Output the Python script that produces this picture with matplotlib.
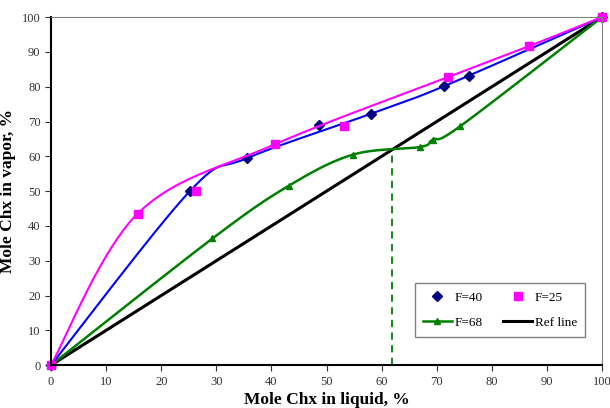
import matplotlib as mpl
mpl.use('Agg')
import matplotlib.pyplot as plt
import numpy as np

# liquid / vapor mole % of Chx (markers)
x_f40 = [0, 25.2, 35.6, 48.7, 58.0, 71.4, 75.9, 100]
y_f40 = [0, 50.0, 59.5, 69.0, 72.2, 80.2, 83.0, 100]

x_f25 = [0, 15.7, 26.3, 40.7, 53.2, 72.1, 86.8, 100]
y_f25 = [0, 43.5, 50.1, 63.5, 68.8, 82.8, 91.7, 100]

x_f68 = [0, 29.3, 43.1, 54.8, 67.0, 69.3, 74.3, 100]
y_f68 = [0, 36.4, 51.5, 60.5, 62.7, 64.8, 68.7, 100]

# smoothed fit lines (drawn through a subset of the points)
x_f40_fit = [0, 25.2, 35.6, 58.0, 71.4, 100]
y_f40_fit = [0, 50.0, 59.5, 72.2, 80.2, 100]

x_f25_fit = [0, 15.7, 40.7, 72.1, 86.8, 100]
y_f25_fit = [0, 43.5, 63.5, 82.8, 91.7, 100]

x_ref = [0, 100]
y_ref = [0, 100]

x_cross = 61.9  # where F=68 crosses the ref line


def smooth(xs, ys, n=30):
    # excel-like smoothed line: cubic bezier between points (catmull-rom handles)
    p = np.column_stack([xs, ys]).astype(float)
    out = [p[0]]
    t = np.linspace(0, 1, n)[1:, None]
    for i in range(len(p) - 1):
        p0 = p[i - 1] if i > 0 else p[i]
        p3 = p[i + 2] if i + 2 < len(p) else p[i + 1]
        c1 = p[i] + (p[i + 1] - p0) / 6
        c2 = p[i + 1] - (p3 - p[i]) / 6
        seg = ((1 - t) ** 3 * p[i] + 3 * (1 - t) ** 2 * t * c1
               + 3 * (1 - t) * t ** 2 * c2 + t ** 3 * p[i + 1])
        out.extend(seg)
    out = np.array(out)
    return out[:, 0], out[:, 1]


plt.rcParams['font.family'] = 'Liberation Serif'

fig = plt.figure(figsize=(6.1, 4.08), dpi=100)
ax = fig.add_axes([0.0836, 0.105, 0.9034, 0.853])

ax.plot([x_cross, x_cross], [0, x_cross], color='#008000', ls=(0, (4, 3)), lw=1.3)
ref, = ax.plot(x_ref, y_ref, color='black', lw=2.2, label='Ref line')

sx, sy = smooth(x_f68, y_f68)
ax.plot(sx, sy, color='#008000', lw=1.8)
f68, = ax.plot(x_f68, y_f68, color='#008000', lw=1.8, ls='none', marker='^',
               ms=5, clip_on=False, label='F=68')

sx, sy = smooth(x_f40_fit, y_f40_fit)
ax.plot(sx, sy, color='#0000FF', lw=1.5)
f40, = ax.plot(x_f40, y_f40, ls='none', marker='D', ms=5, color='#000080',
               clip_on=False, label='F=40')

sx, sy = smooth(x_f25_fit, y_f25_fit)
ax.plot(sx, sy, color='#FF00FF', lw=1.5)
f25, = ax.plot(x_f25, y_f25, ls='none', marker='s', ms=5.5, color='#FF00FF',
               clip_on=False, label='F=25')

# legend line for F=68 shows line + marker
f68_leg, = ax.plot([], [], color='#008000', lw=1.8, marker='^', ms=5)

ax.set_xlim(0, 100)
ax.set_ylim(0, 100)
ax.set_xticks(range(0, 101, 10))
ax.set_yticks(range(0, 101, 10))
ax.tick_params(direction='out', length=4, labelsize=9, colors='#333333')
for s in ['top', 'right']:
    ax.spines[s].set_color('#808080')
for s in ['left', 'bottom']:
    ax.spines[s].set_color('black')
    ax.spines[s].set_linewidth(1.5)

ax.set_xlabel('Mole Chx in liquid, %', fontsize=12.5, fontweight='bold')
ax.set_ylabel('Mole Chx in vapor, %', fontsize=12.5, fontweight='bold')
ax.xaxis.set_label_coords(0.5, -0.077)
ax.yaxis.set_label_coords(-0.064, 0.5)

leg = ax.legend([f40, f68_leg, f25, ref], ['F=40', 'F=68', 'F=25', 'Ref line'],
                ncol=2, loc='lower left', bbox_to_anchor=(0.66, 0.081, 0.309, 0.15),
                mode='expand', fontsize=9.5, fancybox=False, framealpha=1,
                edgecolor='#808080', handlelength=2.2, handletextpad=0.2,
                borderpad=0.6, labelspacing=1.0, columnspacing=1.5,
                borderaxespad=0)
leg.get_frame().set_linewidth(1.0)

plt.savefig('out.png', dpi=100)
